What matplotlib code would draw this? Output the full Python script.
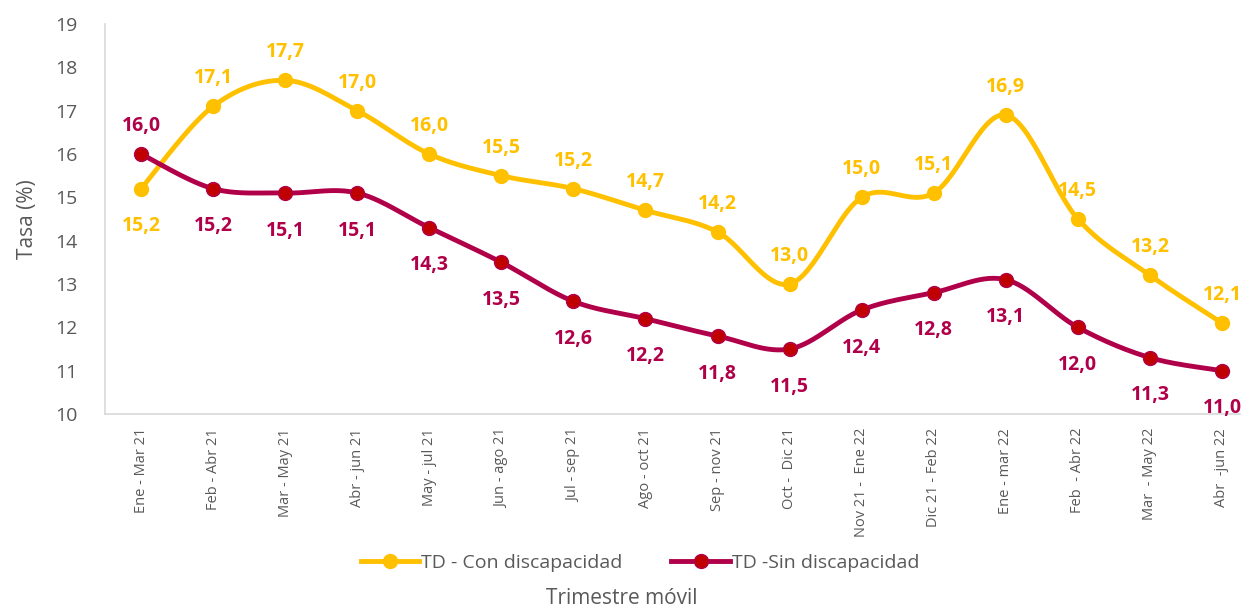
import numpy as np
import matplotlib.pyplot as plt

periodos = ['Ene - Mar 21', 'Feb - Abr 21', 'Mar - May 21', 'Abr - jun 21', 'May - jul 21',
            'Jun - ago 21', 'Jul - sep 21', 'Ago - oct 21', 'Sep - nov 21', 'Oct -  Dic 21',
            'Nov 21 -  Ene 22', 'Dic 21 - Feb 22', 'Ene - mar 22', 'Feb  - Abr 22',
            'Mar  - May 22', 'Abr  -jun 22']
con_disc = [15.2, 17.1, 17.7, 17.0, 16.0, 15.5, 15.2, 14.7, 14.2, 13.0, 15.0, 15.1, 16.9, 14.5, 13.2, 12.1]
sin_disc = [16.0, 15.2, 15.1, 15.1, 14.3, 13.5, 12.6, 12.2, 11.8, 11.5, 12.4, 12.8, 13.1, 12.0, 11.3, 11.0]

plt.rcParams['font.family'] = ['Open Sans', 'DejaVu Sans']
gris = '#595959'
amarillo = '#FFC000'
vino = '#B0004A'
vino_mk = '#C00000'


def suavizar(y, n=30):
    # curva tipo Catmull-Rom, como el "suavizado" de Excel
    y = np.asarray(y, float)
    x = np.arange(len(y), dtype=float)
    p = np.concatenate([[y[0]], y, [y[-1]]])
    px = np.concatenate([[x[0]], x, [x[-1]]])
    xs, ys = [], []
    for i in range(len(y) - 1):
        t = np.linspace(0, 1, n, endpoint=False)
        for arr, out in ((px, xs), (p, ys)):
            p0, p1, p2, p3 = arr[i], arr[i + 1], arr[i + 2], arr[i + 3]
            out.append(0.5 * ((2 * p1) + (-p0 + p2) * t + (2 * p0 - 5 * p1 + 4 * p2 - p3) * t ** 2
                              + (-p0 + 3 * p1 - 3 * p2 + p3) * t ** 3))
    xs.append([x[-1]]); ys.append([y[-1]])
    return np.concatenate(xs), np.concatenate(ys)


fig = plt.figure(figsize=(12.43, 6.10), dpi=100)
ax = fig.add_axes([105 / 1243, 1 - 414 / 610, 1135 / 1243, 390 / 610])
x = np.arange(len(periodos))

sx, sy = suavizar(con_disc)
ax.plot(sx, sy, color=amarillo, lw=3.5, zorder=2)
ax.plot(x, con_disc, 'o', color=amarillo, ms=10, zorder=3)
sx, sy = suavizar(sin_disc)
ax.plot(sx, sy, color=vino, lw=3.5, zorder=2)
ax.plot(x, sin_disc, 'o', color=vino_mk, mec=vino, ms=10, zorder=3)

# leyenda con lineas de muestra
ax.plot([], [], '-o', color=amarillo, lw=3.5, ms=10, label='TD - Con discapacidad')
ax.plot([], [], '-o', color=vino, mfc=vino_mk, lw=3.5, ms=10, label='TD -Sin discapacidad')

for i in range(len(x)):
    arriba_con = i != 0
    ax.annotate(f'{con_disc[i]:.1f}'.replace('.', ','), (i, con_disc[i]),
                xytext=(0, 13 if arriba_con else -20), textcoords='offset points',
                ha='center', va='bottom' if arriba_con else 'top', color=amarillo,
                fontsize=14, fontweight='bold')
    ax.annotate(f'{sin_disc[i]:.1f}'.replace('.', ','), (i, sin_disc[i]),
                xytext=(0, -20 if arriba_con else 13), textcoords='offset points',
                ha='center', va='top' if arriba_con else 'bottom', color=vino,
                fontsize=14, fontweight='bold')

ax.set_ylim(10, 19)
ax.set_yticks(range(10, 20))
ax.set_xlim(-0.5, 15.25)
ax.set_xticks(x)
ax.set_xticklabels(periodos, rotation=90, fontsize=10.5, color=gris)
ax.tick_params(axis='y', labelsize=14, colors=gris, length=0, pad=20)
ax.tick_params(axis='x', length=0, pad=10)
for s in ['top', 'right']:
    ax.spines[s].set_visible(False)
ax.spines['left'].set_color('#D9D9D9')
ax.spines['bottom'].set_color('#D9D9D9')
ax.spines['left'].set_linewidth(1.2)
ax.spines['bottom'].set_linewidth(1.2)

ax.set_ylabel('Tasa (%)', fontsize=15, color=gris, labelpad=12)
fig.text(0.5, 1 - 598 / 610, 'Trimestre móvil', ha='center', va='center', fontsize=15, color=gris)
fig.legend(loc='center', bbox_to_anchor=(0.515, 1 - 563 / 610), ncol=2, frameon=False,
           fontsize=14, labelcolor=gris, handlelength=3, handletextpad=0.1, columnspacing=2.5)

fig.savefig('out.png', dpi=100)
